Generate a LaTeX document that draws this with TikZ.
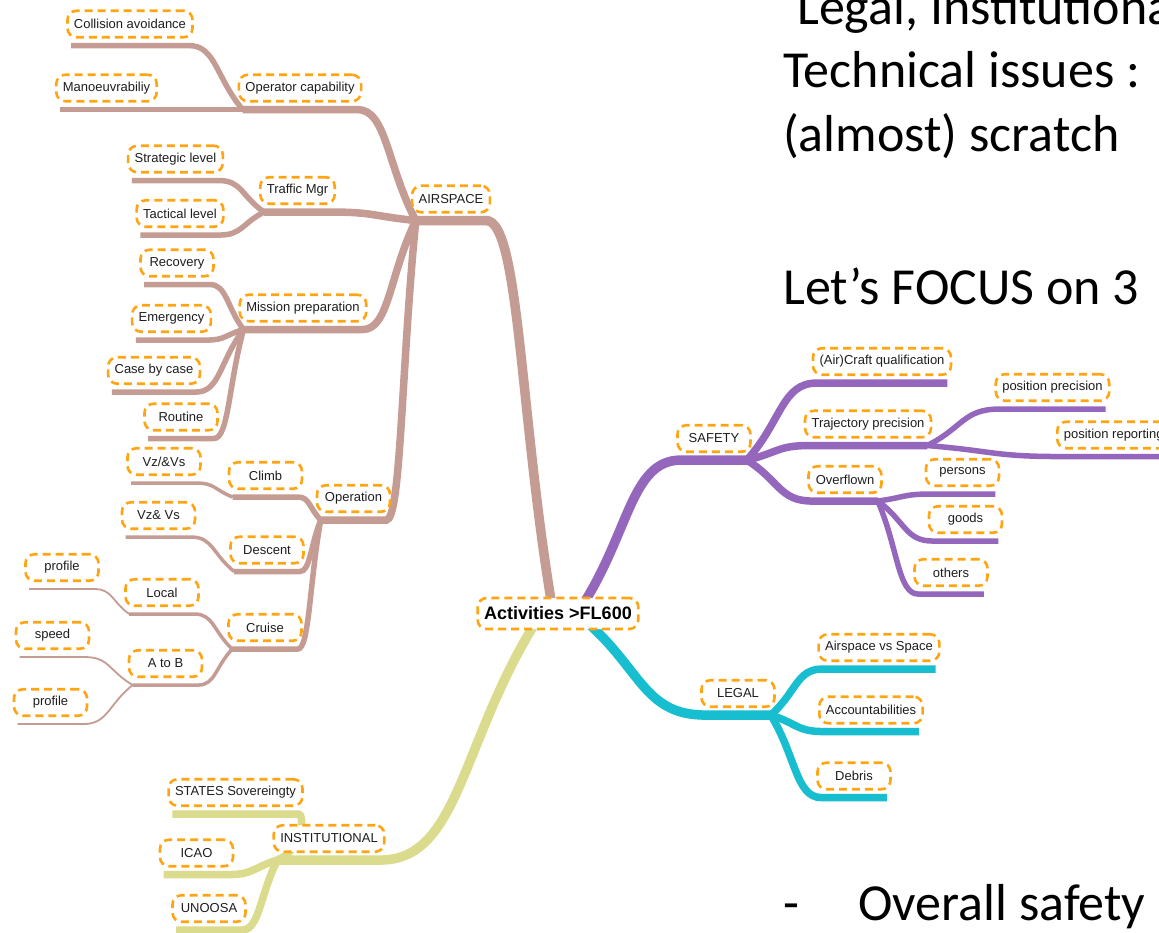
\documentclass[tikz,border=0pt]{standalone}
\usepackage{fontspec}
\setmainfont{Liberation Sans}
\newfontfamily\slidefont{Carlito}
\usetikzlibrary{calc,backgrounds}

\definecolor{mmbrown}{HTML}{C49C94}
\definecolor{mmpurple}{HTML}{9467BD}
\definecolor{mmcyan}{HTML}{17BECF}
\definecolor{mmolive}{HTML}{DBDB8D}
\definecolor{mmorange}{HTML}{FFA514}
\definecolor{mmtext}{HTML}{1E1E1E}

\tikzset{
  topic/.style={draw=mmorange, fill=white, line width=2.6pt,
    dash pattern=on 8pt off 5pt, rounded corners=9pt,
    inner xsep=6.5pt, inner ysep=0pt, minimum height=26.5pt, minimum width=73pt,
    text=mmtext, font=\fontsize{13}{15}\selectfont},
  central/.style={topic, font=\bfseries\fontsize{18}{20}\selectfont,
    minimum height=31pt, text=black},
  slide/.style={anchor=base west, inner sep=0pt, text=black,
    font=\slidefont\fontsize{52}{62}\selectfont},
  lvone/.style={line width=9.5pt},
  lvtwo/.style={line width=7.5pt},
  lvthree/.style={line width=5.5pt},
  lvfour/.style={line width=3.5pt},
  lvfive/.style={line width=1.8pt},
}

% child placed left of its parent: underline, then curve from its right end
\newcommand\mmleft[3]{%
  \draw[#3] let \p1=($(#1.south west)+(5,7)$), \p2=($(#1.south east)+(-5,7)$), \p3=(#2) in
    (\p1) -- (\p2) .. controls ({0.5*\x2+0.5*\x3},\y2) and ({0.5*\x2+0.5*\x3},{0.5*\y2+0.5*\y3}) .. (\p3);}
% child placed right of its parent: underline, then curve from its left end
\newcommand\mmright[3]{%
  \draw[#3] let \p1=($(#1.south east)+(-5,7)$), \p2=($(#1.south west)+(5,7)$), \p3=(#2) in
    (\p1) -- (\p2) .. controls ({0.5*\x2+0.5*\x3},\y2) and ({0.5*\x2+0.5*\x3},{0.5*\y2+0.5*\y3}) .. (\p3);}

\begin{document}
\begin{tikzpicture}[x=1pt,y=-1pt]
\useasboundingbox (0,0) rectangle (1159,933);
\clip (0,0) rectangle (1159,933);

% slide text
\node[slide] (line1) at (797,25) {Legal, Institutional};
\node[slide] (line2) at (783,88) {Technical issues :};
\node[slide] (line3) at (783,152) {(almost) scratch};
\node[slide] (line4) at (783,305) {Let’s FOCUS on 3};
\node[slide] (bullet) at (783,920) {-};
\node[slide] (overall) at (858,920) {Overall safety};

% central topic
\node[central] (root) at (558,613.5) {Activities >FL600};

% AIRSPACE
\node[topic] (airspace) at (451,199) {AIRSPACE};
\node[topic] (opcap) at (300,88) {Operator capability};
\node[topic] (collision) at (130,24) {Collision avoidance};
\node[topic] (manoeuv) at (106.5,88) {Manoeuvrabiliy};
\node[topic] (traffic) at (297.5,190.5) {Traffic Mgr};
\node[topic] (strategic) at (175.5,159) {Strategic level};
\node[topic] (tactical) at (180,213.5) {Tactical level};
\node[topic] (mission) at (303,308) {Mission preparation};
\node[topic] (recovery) at (177,263) {Recovery};
\node[topic] (emergency) at (171.5,318.5) {Emergency};
\node[topic] (casebycase) at (154,370.5) {Case by case};
\node[topic] (routine) at (181,417) {Routine};
\node[topic] (operation) at (353.5,498.5) {Operation};
\node[topic] (climb) at (265.5,475.5) {Climb};
\node[topic] (vzclimb) at (164,461.5) {Vz/\&Vs};
\node[topic] (descent) at (267,550) {Descent};
\node[topic] (vzdescent) at (158.5,515.5) {Vz\& Vs};
\node[topic] (cruise) at (265,627.5) {Cruise};
\node[topic] (local) at (162,592.5) {Local};
\node[topic] (localprofile) at (62,567.5) {profile};
\node[topic] (atob) at (165.5,663.5) {A to B};
\node[topic] (speed) at (52.5,635.5) {speed};
\node[topic] (atobprofile) at (50.5,702.5) {profile};

% INSTITUTIONAL
\node[topic] (institutional) at (329,838.5) {INSTITUTIONAL};
\node[topic] (states) at (235.5,792.5) {STATES Sovereingty};
\node[topic] (icao) at (196.5,853) {ICAO};
\node[topic] (unoosa) at (209,908.5) {UNOOSA};

% SAFETY
\node[topic] (safety) at (714,438.5) {SAFETY};
\node[topic] (aircraft) at (882,361.5) {(Air)Craft qualification};
\node[topic] (trajectory) at (868,424) {Trajectory precision};
\node[topic] (posprec) at (1052.5,387.5) {position precision};
\node[topic, anchor=west] (posrep) at (1056,435) {position reporting};
\node[topic] (overflown) at (845,479.5) {Overflown};
\node[topic] (persons) at (962.5,472.5) {persons};
\node[topic] (goods) at (965.5,519.5) {goods};
\node[topic] (others) at (951,572.5) {others};

% LEGAL
\node[topic] (legal) at (738,693.5) {LEGAL};
\node[topic] (airvsspace) at (879,647.5) {Airspace vs Space};
\node[topic] (account) at (871,710) {Accountabilities};
\node[topic] (debris) at (854,776) {Debris};

% branch points
\coordinate (root-a) at (553,612);
\coordinate (root-s) at (578,612);
\coordinate (root-i) at (541,614);
\coordinate (root-l) at (577,614);
\foreach \n in {airspace,opcap,traffic,mission,operation,climb,descent,cruise,local,atob,institutional}
  \coordinate (\n-j) at ($(\n.south west)+(5,7)$);
\foreach \n in {safety,trajectory,overflown,legal}
  \coordinate (\n-j) at ($(\n.south east)+(-5,7)$);

\begin{pgfonlayer}{background}
\fill[white] (0,0) rectangle (1159,933);
\begin{scope}
\clip (0,0) rectangle (1159,933);
% main branches
\mmleft{airspace}{root-a}{mmbrown,lvone}
\mmleft{institutional}{root-i}{mmolive,lvone}
\mmright{safety}{root-s}{mmpurple,lvone}
\mmright{legal}{root-l}{mmcyan,lvone}

% AIRSPACE subtree
\mmleft{opcap}{airspace-j}{mmbrown,lvtwo}
\mmleft{traffic}{airspace-j}{mmbrown,lvtwo}
\mmleft{mission}{airspace-j}{mmbrown,lvtwo}
\mmleft{operation}{airspace-j}{mmbrown,lvtwo}
\mmleft{collision}{opcap-j}{mmbrown,lvthree}
\mmleft{manoeuv}{opcap-j}{mmbrown,lvthree}
\mmleft{strategic}{traffic-j}{mmbrown,lvthree}
\mmleft{tactical}{traffic-j}{mmbrown,lvthree}
\mmleft{recovery}{mission-j}{mmbrown,lvthree}
\mmleft{emergency}{mission-j}{mmbrown,lvthree}
\mmleft{casebycase}{mission-j}{mmbrown,lvthree}
\mmleft{routine}{mission-j}{mmbrown,lvthree}
\mmleft{climb}{operation-j}{mmbrown,lvthree}
\mmleft{descent}{operation-j}{mmbrown,lvthree}
\mmleft{cruise}{operation-j}{mmbrown,lvthree}
\mmleft{vzclimb}{climb-j}{mmbrown,lvfour}
\mmleft{vzdescent}{descent-j}{mmbrown,lvfour}
\mmleft{local}{cruise-j}{mmbrown,lvfour}
\mmleft{atob}{cruise-j}{mmbrown,lvfour}
\mmleft{localprofile}{local-j}{mmbrown,lvfive}
\mmleft{speed}{atob-j}{mmbrown,lvfive}
\mmleft{atobprofile}{atob-j}{mmbrown,lvfive}

% INSTITUTIONAL subtree
\draw[mmolive,lvtwo] let \p1=($(states.south west)+(5,7)$), \p2=($(states.south east)+(-5,7)$),
    \p3=(institutional-j) in
  (\p1) -- (\p2) .. controls ({\x2+6pt},\y2) and ({\x2+4pt},{\y3+10pt}) .. (\p3);
\mmleft{icao}{institutional-j}{mmolive,lvtwo}
\mmleft{unoosa}{institutional-j}{mmolive,lvtwo}

% SAFETY subtree
\mmright{aircraft}{safety-j}{mmpurple,lvtwo}
\mmright{trajectory}{safety-j}{mmpurple,lvtwo}
\mmright{overflown}{safety-j}{mmpurple,lvtwo}
\mmright{posprec}{trajectory-j}{mmpurple,lvthree}
\mmright{posrep}{trajectory-j}{mmpurple,lvthree}
\mmright{persons}{overflown-j}{mmpurple,lvthree}
\mmright{goods}{overflown-j}{mmpurple,lvthree}
\mmright{others}{overflown-j}{mmpurple,lvthree}

% LEGAL subtree
\mmright{airvsspace}{legal-j}{mmcyan,lvtwo}
\mmright{account}{legal-j}{mmcyan,lvtwo}
\mmright{debris}{legal-j}{mmcyan,lvtwo}
\end{scope}
\end{pgfonlayer}
\end{tikzpicture}
\end{document}
